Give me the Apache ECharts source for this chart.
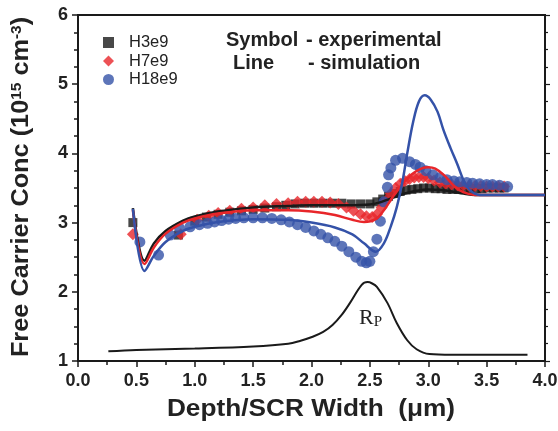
<!DOCTYPE html>
<html><head><meta charset="utf-8">
<script src="https://cdn.jsdelivr.net/npm/echarts@6/dist/echarts.min.js"></script>
<style>html,body{margin:0;padding:0;background:#fff}#c{width:558px;height:431px}</style>
</head><body><div id="c"></div>
<script>
// ---- tick labels ----
const xTicks = [0.0,0.5,1.0,1.5,2.0,2.5,3.0,3.5,4.0];
const yTicks = [1,2,3,4,5,6];
// ---- experimental symbols [x, y] ----
const h3e9Pts = [[0.47,3.00],[0.86,2.82],[1.00,3.02],[1.10,3.08],[1.20,3.12],[1.30,3.15],[1.40,3.17],[1.50,3.19],[1.60,3.21],[1.70,3.23],[1.78,3.25],[1.86,3.27],[1.94,3.28],[2.02,3.28],[2.10,3.28],[2.18,3.28],[2.26,3.28],[2.34,3.27],[2.42,3.27],[2.50,3.27],[2.56,3.30],[2.61,3.34],[2.66,3.38],[2.71,3.42],[2.76,3.45],[2.81,3.47],[2.86,3.48],[2.91,3.49],[2.96,3.50],[3.01,3.50],[3.06,3.49],[3.11,3.49],[3.16,3.48],[3.21,3.48],[3.26,3.48],[3.31,3.48],[3.36,3.48],[3.41,3.49],[3.46,3.49],[3.51,3.50],[3.56,3.50],[3.61,3.50],[3.65,3.50]];
const h7e9Pts = [[0.47,2.83],[0.88,2.83],[1.02,3.04],[1.12,3.10],[1.20,3.14],[1.30,3.17],[1.40,3.20],[1.50,3.22],[1.60,3.25],[1.70,3.27],[1.80,3.28],[1.88,3.30],[1.95,3.30],[2.02,3.30],[2.09,3.30],[2.16,3.29],[2.23,3.27],[2.30,3.22],[2.36,3.17],[2.42,3.12],[2.47,3.09],[2.52,3.08],[2.56,3.12],[2.60,3.22],[2.64,3.32],[2.68,3.42],[2.72,3.50],[2.76,3.56],[2.80,3.60],[2.84,3.63],[2.88,3.65],[2.92,3.66],[2.96,3.66],[3.00,3.64],[3.05,3.61],[3.10,3.58],[3.15,3.56],[3.20,3.55],[3.25,3.54],[3.30,3.54],[3.35,3.53],[3.40,3.53],[3.45,3.53],[3.50,3.52],[3.55,3.52],[3.60,3.52],[3.65,3.52]];
const h18e9Pts = [[0.53,2.72],[0.69,2.53],[0.79,2.82],[0.87,2.92],[0.96,2.94],[1.04,2.97],[1.11,2.99],[1.17,3.01],[1.23,3.03],[1.29,3.05],[1.35,3.06],[1.42,3.07],[1.50,3.07],[1.58,3.07],[1.66,3.06],[1.74,3.04],[1.81,3.01],[1.88,2.97],[1.95,2.93],[2.02,2.88],[2.08,2.83],[2.14,2.78],[2.20,2.73],[2.26,2.66],[2.32,2.58],[2.38,2.50],[2.43,2.44],[2.47,2.42],[2.50,2.44],[2.53,2.58],[2.56,2.76],[2.59,3.02],[2.62,3.30],[2.65,3.51],[2.66,3.69],[2.68,3.79],[2.72,3.90],[2.78,3.93],[2.84,3.88],[2.89,3.84],[2.93,3.80],[2.98,3.75],[3.04,3.69],[3.10,3.65],[3.16,3.62],[3.22,3.60],[3.27,3.59],[3.33,3.58],[3.38,3.57],[3.44,3.56],[3.50,3.55],[3.55,3.55],[3.61,3.54],[3.68,3.52]];
// ---- simulation lines [x, y] ----
const h3e9Sim = [[0.47,3.21],[0.57,2.45],[0.65,2.70],[0.75,2.88],[0.90,3.03],[1.00,3.09],[1.20,3.16],[1.50,3.22],[1.80,3.24],[2.00,3.25],[2.30,3.25],[2.50,3.26],[2.60,3.30],[2.70,3.36],[2.80,3.42],[2.90,3.46],[3.00,3.48],[3.10,3.47],[3.20,3.45],[3.30,3.42],[3.40,3.40],[3.60,3.40],[4.00,3.40]];
const h7e9Sim = [[0.47,3.18],[0.57,2.40],[0.65,2.64],[0.75,2.84],[0.90,3.00],[1.00,3.06],[1.20,3.13],[1.50,3.18],[1.80,3.18],[2.00,3.16],[2.20,3.11],[2.35,3.04],[2.45,3.01],[2.55,3.05],[2.62,3.18],[2.70,3.38],[2.78,3.56],[2.86,3.70],[2.94,3.78],[3.00,3.80],[3.06,3.78],[3.14,3.68],[3.22,3.53],[3.30,3.44],[3.40,3.40],[3.60,3.40],[4.00,3.40]];
const h18e9Sim = [[0.47,3.20],[0.57,2.30],[0.65,2.52],[0.75,2.72],[0.90,2.88],[1.00,2.94],[1.20,3.01],[1.50,3.05],[1.80,3.04],[2.00,3.00],[2.20,2.93],[2.35,2.83],[2.45,2.70],[2.55,2.58],[2.62,2.70],[2.68,2.95],[2.73,3.22],[2.78,3.60],[2.82,4.00],[2.87,4.45],[2.92,4.75],[2.97,4.84],[3.02,4.78],[3.08,4.60],[3.13,4.34],[3.19,4.08],[3.25,3.84],[3.30,3.62],[3.35,3.48],[3.44,3.40],[3.60,3.40],[4.00,3.40]];
// ---- implant profile (Rp) ----
const rpProfile = [[0.26,1.14],[0.50,1.16],[1.00,1.18],[1.50,1.21],[1.80,1.25],[1.90,1.29],[2.01,1.35],[2.10,1.42],[2.18,1.52],[2.26,1.67],[2.33,1.84],[2.43,2.10],[2.48,2.14],[2.52,2.12],[2.56,2.07],[2.65,1.84],[2.73,1.55],[2.82,1.30],[2.90,1.17],[3.01,1.10],[3.20,1.09],[3.85,1.09]];

const BLACK='#1a1a1a', RED='#e8262a', BLUE='#3452a8';
const FONT='Arial, "Liberation Sans", sans-serif';
const chart = echarts.init(document.getElementById('c'));
function axLine(){ return {show:true,onZero:false,lineStyle:{color:BLACK,width:2}}; }
chart.setOption({
  animation:false,
  grid:{left:78,right:13,top:15,bottom:70,containLabel:false,outerBoundsMode:'none',
        show:true,borderColor:BLACK,borderWidth:2,backgroundColor:'rgba(0,0,0,0)'},
  legend:{
    data:['H3e9','H7e9','H18e9'],
    orient:'vertical', left:98, top:29, itemWidth:11, itemHeight:11, itemGap:1.5,
    textStyle:{fontFamily:FONT,fontSize:16.5,color:'#222',padding:[0,0,0,10]}
  },
  xAxis:[{
    type:'value', min:xTicks[0], max:xTicks[xTicks.length-1], interval:0.5,
    axisLine:axLine(), splitLine:{show:false},
    axisTick:{show:true,inside:false,length:6,lineStyle:{color:BLACK,width:1.5}},
    minorTick:{show:true,splitNumber:2,length:4,lineStyle:{color:BLACK,width:1.5}},
    axisLabel:{margin:11,fontFamily:FONT,fontSize:18,fontWeight:'bold',color:'#222',formatter:v=>v.toFixed(1)}
  },{
    type:'value', position:'top', min:xTicks[0], max:xTicks[xTicks.length-1], interval:0.5,
    axisLine:axLine(), splitLine:{show:false},
    axisTick:{show:true,inside:true,length:1,lineStyle:{color:BLACK,width:1}},
    axisLabel:{show:true,color:'rgba(0,0,0,0)',fontSize:1,margin:0,formatter:()=>''}
  }],
  yAxis:[{
    type:'value', min:yTicks[0], max:yTicks[yTicks.length-1], interval:1,
    axisLine:axLine(), splitLine:{show:false},
    axisTick:{show:true,inside:false,length:6,lineStyle:{color:BLACK,width:1.5}},
    minorTick:{show:true,splitNumber:4,length:4,lineStyle:{color:BLACK,width:1.5}},
    axisLabel:{margin:10,fontFamily:FONT,fontSize:18,fontWeight:'bold',color:'#222'}
  },{
    type:'value', position:'right', min:yTicks[0], max:yTicks[yTicks.length-1], interval:1,
    axisLine:axLine(), splitLine:{show:false},
    axisTick:{show:true,inside:false,length:5,lineStyle:{color:BLACK,width:1.2}},
    minorTick:{show:true,splitNumber:4,length:3,lineStyle:{color:BLACK,width:1.2}},
    axisLabel:{show:false}
  }],
  series:[
    {name:'H3e9',type:'scatter',data:h3e9Pts,symbol:'rect',symbolSize:9,itemStyle:{color:BLACK},z:3},
    {name:'H7e9',type:'scatter',data:h7e9Pts,symbol:'diamond',symbolSize:12,itemStyle:{color:RED},z:3},
    {name:'H18e9',type:'scatter',data:h18e9Pts,symbol:'circle',symbolSize:11,itemStyle:{color:BLUE},z:3},
    {name:'sim3',type:'line',data:h3e9Sim,smooth:0.35,showSymbol:false,lineStyle:{color:BLACK,width:2.5},z:4},
    {name:'sim7',type:'line',data:h7e9Sim,smooth:0.35,showSymbol:false,lineStyle:{color:RED,width:2.5},z:4},
    {name:'sim18',type:'line',data:h18e9Sim,smooth:0.35,showSymbol:false,lineStyle:{color:BLUE,width:2.5},z:4},
    {name:'Rp',type:'line',data:rpProfile,smooth:0.35,showSymbol:false,clip:false,lineStyle:{color:BLACK,width:2},z:4,
      markLine:{silent:true,symbol:'none',label:{show:false},lineStyle:{color:BLACK,width:2,type:'solid'},
        data:[[{coord:[xTicks[0],5.999]},{coord:[xTicks[xTicks.length-1],5.999]}]]}}
  ],
  graphic:[
    {type:'text',left:226,top:30,style:{text:'Symbol',font:'bold 20px '+FONT,fill:'#222'}},
    {type:'text',left:233,top:53,style:{text:'Line',font:'bold 20px '+FONT,fill:'#222'}},
    {type:'text',left:306,top:30,style:{text:'- experimental',font:'bold 20px '+FONT,fill:'#222'}},
    {type:'text',left:308,top:53,style:{text:'- simulation',font:'bold 20px '+FONT,fill:'#222'}},
    {type:'text',x:311,y:410,scaleX:1.14,style:{text:'Depth/SCR Width  (\u03bcm)',font:'bold 23px '+FONT,fill:'#222',align:'center',verticalAlign:'middle'}},
    {type:'text',x:22,y:187,rotation:Math.PI/2,scaleX:1.1,style:{text:'Free Carrier Conc (10{s|15} cm{s|-3})',font:'bold 23px '+FONT,fill:'#222',align:'center',verticalAlign:'middle',
      rich:{s:{font:'bold 14px '+FONT,fill:'#222',verticalAlign:'top',padding:[0,0,10,0]}}}},
    {type:'text',left:359,top:307,style:{text:'R{p|P}',font:'22px "Liberation Serif", "Times New Roman", serif',fill:'#222',
      rich:{p:{fontFamily:'"Liberation Serif", serif',fontSize:15,verticalAlign:'bottom',padding:[8,0,0,0]}}}}
  ]
});
</script></body></html>
